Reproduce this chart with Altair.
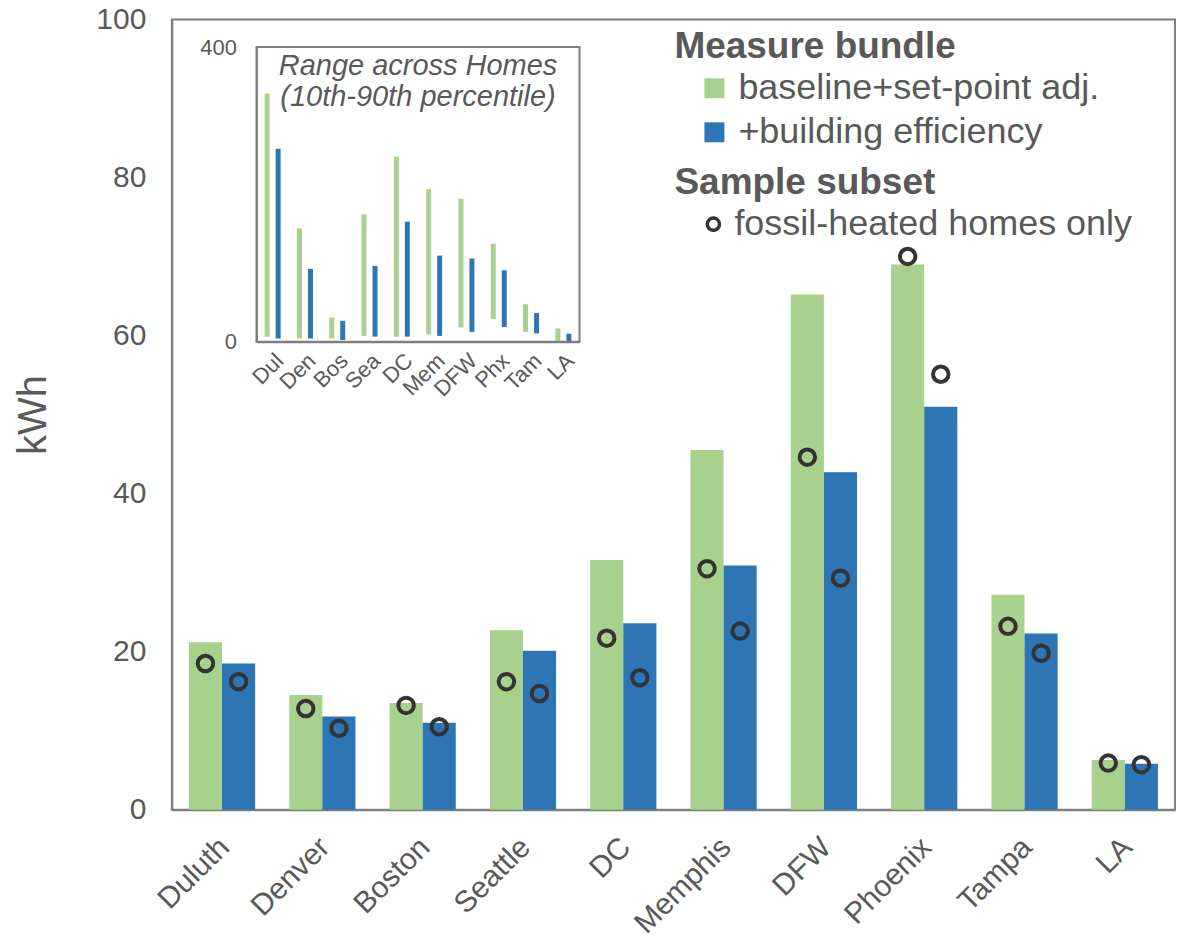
import altair as alt
import pandas as pd

cities = ["Duluth", "Denver", "Boston", "Seattle", "DC", "Memphis", "DFW", "Phoenix", "Tampa", "LA"]
abbr = ["Dul", "Den", "Bos", "Sea", "DC", "Mem", "DFW", "Phx", "Tam", "LA"]
bundles = ["baseline+set-point adj.", "+building efficiency"]

# main bars (kWh)
base_kwh = [21.2, 14.5, 13.5, 22.7, 31.6, 45.5, 65.2, 69.0, 27.2, 6.3]
eff_kwh = [18.5, 11.8, 11.0, 20.1, 23.6, 30.9, 42.7, 51.0, 22.3, 5.8]
# fossil-heated homes only
fossil_base = [18.5, 12.8, 13.2, 16.2, 21.7, 30.5, 44.6, 70.0, 23.2, 5.9]
fossil_eff = [16.2, 10.3, 10.5, 14.7, 16.7, 22.6, 29.3, 55.1, 19.8, 5.7]

# inset: 10th-90th percentile range across homes
p10_base = [7, 4.5, 4.5, 8, 7, 10, 19.5, 31, 13.5, 0]
p90_base = [337, 154, 33, 173, 251, 207, 194, 133, 51, 18]
p10_eff = [4.5, 4.5, 2.5, 7, 7, 8, 13.5, 20, 11.5, 0]
p90_eff = [262, 99, 28.5, 103, 163, 117, 113, 97, 39, 11]

subset_label = "fossil-heated homes only"

rows, prow, irow = [], [], []
for i, c in enumerate(cities):
    rows.append({"city": c, "bundle": bundles[0], "kwh": base_kwh[i]})
    rows.append({"city": c, "bundle": bundles[1], "kwh": eff_kwh[i]})
    prow.append({"city": c, "bundle": bundles[0], "kwh": fossil_base[i], "subset": subset_label})
    prow.append({"city": c, "bundle": bundles[1], "kwh": fossil_eff[i], "subset": subset_label})
    irow.append({"abbr": abbr[i], "bundle": bundles[0], "lo": p10_base[i], "hi": p90_base[i]})
    irow.append({"abbr": abbr[i], "bundle": bundles[1], "lo": p10_eff[i], "hi": p90_eff[i]})

bars_df = pd.DataFrame(rows)
pts_df = pd.DataFrame(prow)
inset_df = pd.DataFrame(irow)

GRAY_TXT = "#595959"
GRAY_LINE = "#7f7f7f"
W, H = 1004, 791

color = alt.Color(
    "bundle:N",
    scale=alt.Scale(domain=bundles, range=["#a9d18e", "#2e75b6"]),
    legend=alt.Legend(
        title="Measure bundle", orient="none", legendX=503, legendY=10,
        symbolType="square", symbolSize=400, symbolOffset=22, labelOffset=6,
        titleFontSize=37, labelFontSize=36, rowPadding=8, titlePadding=4,
        symbolStrokeWidth=0, padding=0, labelLimit=0, titleLimit=0,
    ),
)

x_main = alt.X(
    "city:N", sort=cities, title=None,
    scale=alt.Scale(paddingInner=0.34, paddingOuter=0.17),
    axis=alt.Axis(labelAngle=-45, labelFontSize=30, labelColor=GRAY_TXT, ticks=False,
                  labelPadding=22, labelOffset=-8, domainColor=GRAY_LINE, domainWidth=2),
)
xoff = alt.XOffset("bundle:N", sort=bundles, scale=alt.Scale(paddingInner=0, paddingOuter=0))
y_main = alt.Y(
    "kwh:Q", title="kWh",
    scale=alt.Scale(domain=[0, 100], nice=False),
    axis=alt.Axis(values=[0, 20, 40, 60, 80, 100], grid=False, ticks=False, labelFontSize=30,
                  labelColor=GRAY_TXT, labelPadding=26, domainColor=GRAY_LINE, domainWidth=2,
                  titleFontSize=40, titleFontWeight="normal", titleColor=GRAY_TXT, titlePadding=42),
)

bars = alt.Chart(bars_df).mark_bar().encode(x=x_main, xOffset=xoff, y=y_main, color=color)

points = alt.Chart(pts_df).mark_point(filled=False, size=240, strokeWidth=4, color="#333333", opacity=1).encode(
    x=alt.X("city:N", sort=cities),
    xOffset=alt.XOffset("bundle:N", sort=bundles),
    y=alt.Y("kwh:Q"),
    shape=alt.Shape(
        "subset:N", scale=alt.Scale(range=["circle"]),
        legend=alt.Legend(
            title="Sample subset", orient="none", legendX=503, legendY=146,
            symbolSize=150, symbolStrokeWidth=3.5, symbolStrokeColor="#333333", symbolFillColor="transparent",
            symbolOffset=21, labelOffset=3, titleFontSize=37, labelFontSize=36, titlePadding=4, padding=0,
            labelLimit=0, titleLimit=0,
        ),
    ),
)

main = alt.layer(bars, points)

# inset geometry (pixels inside plot area)
IX0, IX1, IY0, IY1 = 84.7, 408, 27.7, 322.7

inset_bars = alt.Chart(inset_df).mark_bar(size=5).encode(
    x=alt.X("abbr:N", sort=abbr, title=None,
            scale=alt.Scale(range=[IX0, IX1], paddingInner=0.32, paddingOuter=0.16),
            axis=alt.Axis(orient="bottom", offset=-(H - IY1), labelAngle=-45, labelFontSize=22,
                          labelColor=GRAY_TXT, ticks=False, labelPadding=8,
                          domainColor=GRAY_LINE, domainWidth=2)),
    xOffset=alt.XOffset("bundle:N", sort=bundles, scale=alt.Scale(paddingInner=0, paddingOuter=0)),
    y=alt.Y("lo:Q", title=None,
            scale=alt.Scale(domain=[0, 400], range=[IY1, IY0], nice=False),
            axis=alt.Axis(orient="left", offset=-IX0, values=[0, 400], grid=False, ticks=False,
                          labelFontSize=22, labelColor=GRAY_TXT, labelPadding=20,
                          domainColor=GRAY_LINE, domainWidth=2)),
    y2="hi:Q",
    color=alt.Color("bundle:N"),
)

frame_df = pd.DataFrame({"t": ["frame"]})
inset_frame = alt.Chart(frame_df).mark_rect(fill="transparent", stroke=GRAY_LINE, strokeWidth=2).encode(
    x=alt.value(IX0), x2=alt.value(IX1), y=alt.value(IY0), y2=alt.value(IY1)
)
inset_title = alt.Chart(frame_df).mark_text(
    text=["Range across Homes", "(10th-90th percentile)"], fontSize=29, fontStyle="italic",
    color=GRAY_TXT, lineHeight=31, baseline="alphabetic", align="center",
).encode(x=alt.value((IX0 + IX1) / 2), y=alt.value(56))

chart = alt.layer(main, inset_bars, inset_frame, inset_title).resolve_scale(
    x="independent", y="independent", xOffset="independent"
).properties(
    width=W, height=H,
    autosize=alt.AutoSizeParams(type="none"),
    padding={"left": 164, "top": 11, "right": 8, "bottom": 128},
).configure(font="Liberation Sans").configure_view(
    stroke=GRAY_LINE, strokeWidth=2
).configure_legend(
    labelColor=GRAY_TXT, titleColor=GRAY_TXT, titleFontWeight="bold"
)

chart.save("out.html", embed_options={"renderer": "svg", "actions": False})
